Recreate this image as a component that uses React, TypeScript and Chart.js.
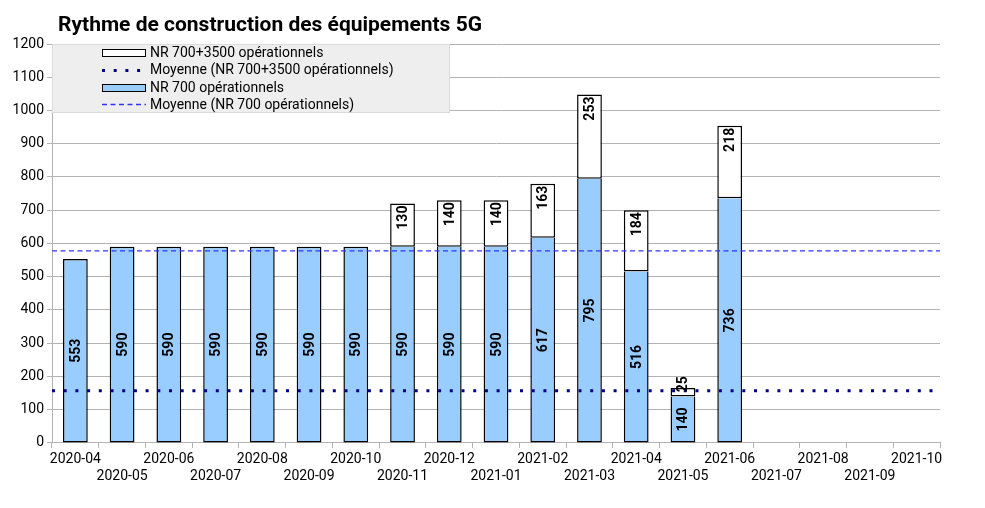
import { useEffect, useRef } from "react";
import Chart from "chart.js/auto";

const months = [
  "2020-04", "2020-05", "2020-06", "2020-07", "2020-08", "2020-09", "2020-10",
  "2020-11", "2020-12", "2021-01", "2021-02", "2021-03", "2021-04", "2021-05",
  "2021-06", "2021-07", "2021-08", "2021-09", "2021-10",
];

// NR 700 sites (bottom of each stack)
const nr700 = [
  553, 590, 590, 590, 590, 590, 590, 590, 590, 590, 617, 795, 516, 140, 736,
  null, null, null, null,
];

// extra 3500 sites stacked on top
const nr3500 = [
  null, null, null, null, null, null, null, 130, 140, 140, 163, 253, 184, 25, 218,
  null, null, null, null,
];

// averages as read on the picture
const avg3500 = 157;
const avg700 = 578;

const yTicks = { min: 0, max: 1200, step: 100 };

const TITLE = "Rythme de construction des équipements 5G";
const GRID = "#b3b3b3";
const FONT = "Roboto";

const avgLines = [
  {
    label: "Moyenne (NR 700+3500 opérationnels)",
    value: avg3500,
    color: "#000080",
    width: 3,
    dash: [3, 8.7],
  },
  {
    label: "Moyenne (NR 700 opérationnels)",
    value: avg700,
    color: "#3333ff",
    width: 1.3,
    dash: [5, 3.5],
  },
];

const titlePlugin = {
  id: "titleText",
  afterDraw(chart: any) {
    const ctx = chart.ctx;
    ctx.save();
    ctx.font = `bold 21px ${FONT}`;
    ctx.fillStyle = "#000";
    ctx.textAlign = "left";
    ctx.textBaseline = "alphabetic";
    ctx.fillText(TITLE, 58, 31);
    ctx.restore();
  },
};

// horizontal mean lines across the whole plot
const avgLinePlugin = {
  id: "avgLines",
  afterDatasetsDraw(chart: any) {
    const { ctx, chartArea, scales } = chart;
    ctx.save();
    ctx.beginPath();
    ctx.rect(chartArea.left, chartArea.top, chartArea.right - chartArea.left, chartArea.bottom - chartArea.top);
    ctx.clip();
    avgLines.forEach((l) => {
      const y = scales.y.getPixelForValue(l.value);
      ctx.strokeStyle = l.color;
      ctx.lineWidth = l.width;
      ctx.setLineDash(l.dash);
      ctx.lineCap = "butt";
      ctx.beginPath();
      ctx.moveTo(chartArea.left, y);
      ctx.lineTo(chartArea.right, y);
      ctx.stroke();
    });
    ctx.restore();
  },
};

// legend in a grey box, in LibreOffice order
const legendPlugin = {
  id: "boxLegend",
  afterDraw(chart: any) {
    const ctx = chart.ctx;
    const left = chart.chartArea.left;
    const top = chart.chartArea.top;
    const ds = chart.data.datasets;
    const items = [
      { label: ds[1].label, fill: ds[1].backgroundColor },
      { label: avgLines[0].label, line: avgLines[0] },
      { label: ds[0].label, fill: ds[0].backgroundColor },
      { label: avgLines[1].label, line: avgLines[1] },
    ];
    ctx.save();
    ctx.fillStyle = "#eeeeee";
    ctx.fillRect(left, top, 398, 69);
    ctx.strokeStyle = "#c8c8c8";
    ctx.lineWidth = 1;
    ctx.setLineDash([1, 1]);
    ctx.strokeRect(left + 0.5, top + 0.5, 397, 68);
    ctx.setLineDash([]);

    items.forEach((it: any, row) => {
      const cy = top + 8.5 + row * 17.3;
      const sx = 102;
      if (it.line) {
        ctx.strokeStyle = it.line.color;
        ctx.lineWidth = it.line.width;
        ctx.setLineDash(it.line.dash);
        ctx.beginPath();
        ctx.moveTo(sx, Math.round(cy) + 0.5);
        ctx.lineTo(sx + 44, Math.round(cy) + 0.5);
        ctx.stroke();
        ctx.setLineDash([]);
      } else {
        ctx.fillStyle = it.fill;
        ctx.fillRect(sx, Math.round(cy - 3.5), 44, 7);
        ctx.strokeStyle = "#000";
        ctx.lineWidth = 1;
        ctx.strokeRect(sx + 0.5, Math.round(cy - 3.5) + 0.5, 43, 7);
      }
      ctx.fillStyle = "#000";
      ctx.font = `14px ${FONT}`;
      ctx.textAlign = "left";
      ctx.textBaseline = "middle";
      ctx.fillText(it.label, 150, cy + 1);
    });
    ctx.restore();
  },
};

// rotated value labels inside the bars
const barLabelPlugin = {
  id: "barLabels",
  afterDatasetsDraw(chart: any) {
    const ctx = chart.ctx;
    ctx.save();
    ctx.font = `bold 14px ${FONT}`;
    ctx.fillStyle = "#000";
    ctx.textBaseline = "middle";
    chart.data.datasets.forEach((ds: any, di: number) => {
      const meta = chart.getDatasetMeta(di);
      meta.data.forEach((bar: any, i: number) => {
        const v = ds.data[i];
        if (v == null) return;
        const text = String(v);
        const w = ctx.measureText(text).width;
        const top = Math.min(bar.y, bar.base);
        const bottom = Math.max(bar.y, bar.base);
        ctx.save();
        if (di === 0) {
          ctx.translate(bar.x, (top + bottom) / 2);
          ctx.rotate(-Math.PI / 2);
          ctx.textAlign = "center";
          ctx.fillText(text, 0, 1);
        } else if (w + 4 <= bottom - top) {
          ctx.translate(bar.x, top + 2);
          ctx.rotate(-Math.PI / 2);
          ctx.textAlign = "right";
          ctx.fillText(text, 0, 1);
        } else {
          ctx.translate(bar.x, (top + bottom) / 2);
          ctx.rotate(-Math.PI / 2);
          ctx.textAlign = "left";
          ctx.fillText(text, 0, 1);
        }
        ctx.restore();
      });
    });
    ctx.restore();
  },
};

export default function App() {
  const canvasRef = useRef<HTMLCanvasElement>(null);
  const chartRef = useRef<Chart | null>(null);

  useEffect(() => {
    if (!canvasRef.current) return;
    chartRef.current?.destroy();

    const last = months.length;
    chartRef.current = new Chart(canvasRef.current, {
      type: "bar",
      data: {
        labels: months,
        datasets: [
          {
            label: "NR 700 opérationnels",
            data: nr700,
            backgroundColor: "#99ccff",
            borderColor: "#000",
            borderWidth: 1.5,
            // the white segment above draws the shared edge
            borderSkipped: (c: any) => (nr3500[c.dataIndex] != null ? "end" : false),
            barPercentage: 0.53,
            categoryPercentage: 1,
            stack: "s",
          },
          {
            label: "NR 700+3500 opérationnels",
            data: nr3500,
            backgroundColor: "#ffffff",
            borderColor: "#000",
            borderWidth: 1.5,
            borderSkipped: false,
            barPercentage: 0.53,
            categoryPercentage: 1,
            stack: "s",
          },
        ] as any,
      },
      options: {
        responsive: true,
        maintainAspectRatio: false,
        animation: false,
        layout: { padding: { left: 0, right: 45, top: 44, bottom: 19.6 } },
        plugins: {
          legend: { display: false },
          tooltip: { enabled: false },
          title: { display: false },
        },
        scales: {
          x: {
            stacked: true,
            offset: true,
            grid: {
              offset: true,
              drawOnChartArea: true,
              color: (c: any) => (c.index === last ? GRID : "rgba(0,0,0,0)"),
              tickColor: GRID,
              tickLength: 5,
            },
            border: { color: GRID },
            ticks: {
              autoSkip: false,
              maxRotation: 0,
              minRotation: 0,
              padding: 3,
              color: "#000",
              font: { family: FONT, size: 14, lineHeight: 1.23 },
              callback: (_v: any, i: number) =>
                i % 2 === 0 ? [months[i], ""] : ["", months[i]],
            },
          },
          y: {
            stacked: true,
            min: yTicks.min,
            max: yTicks.max,
            afterFit: (scale: any) => {
              scale.width = 52;
            },
            grid: { color: GRID, tickLength: 5 },
            border: { color: GRID },
            ticks: {
              stepSize: yTicks.step,
              padding: 3,
              color: "#000",
              font: { family: FONT, size: 14 },
              callback: (v: any) => String(v),
            },
          },
        },
      },
      plugins: [avgLinePlugin, barLabelPlugin, legendPlugin, titlePlugin],
    });

    return () => {
      chartRef.current?.destroy();
      chartRef.current = null;
    };
  }, []);

  return (
    <div
      style={{
        position: "fixed",
        left: 0,
        top: 0,
        width: 985,
        height: 508,
        background: "#fff",
      }}
    >
      <canvas ref={canvasRef} />
    </div>
  );
}
